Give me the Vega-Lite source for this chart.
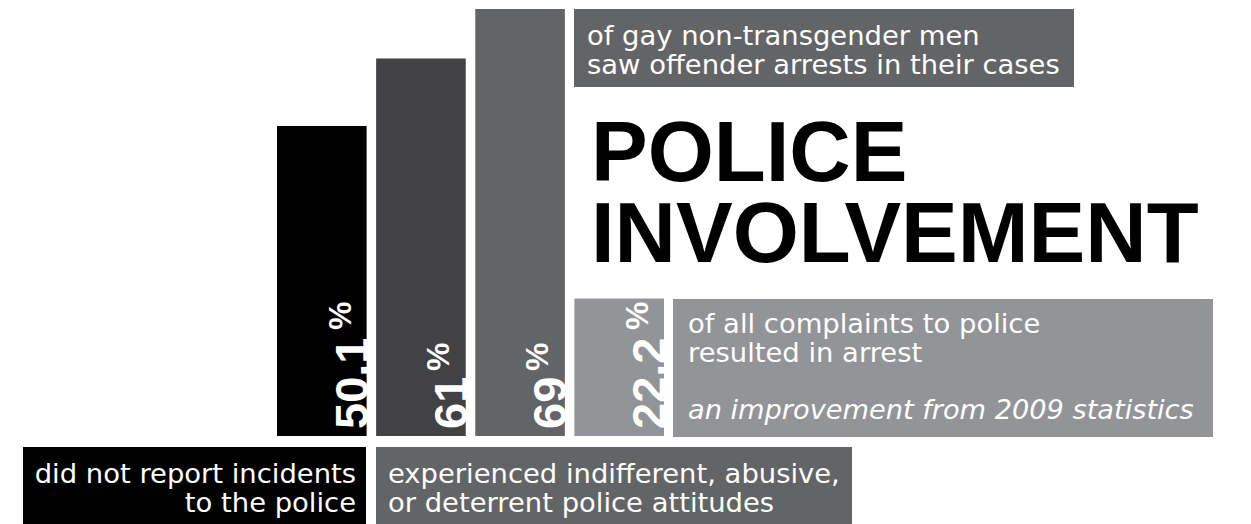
{
  "$schema": "https://vega.github.io/schema/vega-lite/v6.json",
  "width": 1251,
  "height": 524,
  "autosize": {"type": "fit", "contains": "padding"},
  "padding": 0,
  "background": "white",
  "config": {"view": {"stroke": null}},
  "datasets": {
    "bars": [
      {"group": "did not report", "value": 50.1, "label": "50.1"},
      {"group": "attitudes", "value": 61, "label": "61"},
      {"group": "arrests gay men", "value": 69, "label": "69"},
      {"group": "complaints arrest", "value": 22.2, "label": "22.2"}
    ],
    "boxes": [
      {"box": "arrests gay men", "x1": 574, "x2": 1074, "y1": 9, "y2": 87, "tone": "mid"},
      {"box": "complaints arrest", "x1": 673, "x2": 1213, "y1": 299, "y2": 437, "tone": "light"},
      {"box": "did not report", "x1": 23, "x2": 366, "y1": 447, "y2": 524, "tone": "dark"},
      {"box": "attitudes", "x1": 376, "x2": 852, "y1": 447, "y2": 524, "tone": "mid"}
    ],
    "notes": [
      {"style": "plain", "text": ["of gay non-transgender men", "saw offender arrests in their cases"], "x": 587, "y": 45},
      {"style": "plain", "text": ["of all complaints to police", "resulted in arrest"], "x": 688, "y": 333},
      {"style": "plain", "text": ["experienced indifferent, abusive,", "or deterrent police attitudes"], "x": 388, "y": 483},
      {"style": "right", "text": ["did not report incidents", "to the police"], "x": 356, "y": 483},
      {"style": "italic", "text": "an improvement from 2009 statistics", "x": 688, "y": 419},
      {"style": "title", "text": ["POLICE", "INVOLVEMENT"], "x": 591, "y": 181}
    ]
  },
  "layer": [
    {
      "data": {"name": "bars"},
      "encoding": {
        "x": {"field": "group", "type": "nominal", "sort": null,
              "scale": {"range": [277, 664], "paddingInner": 0.096, "paddingOuter": 0},
              "axis": null},
        "y": {"field": "value", "type": "quantitative",
              "scale": {"domain": [0, 69], "range": [436, 9], "nice": false},
              "axis": null}
      },
      "layer": [
        {
          "mark": {"type": "bar"},
          "encoding": {
            "color": {"field": "group", "type": "nominal",
                      "scale": {"domain": ["did not report", "attitudes", "arrests gay men", "complaints arrest"],
                                "range": ["#000000", "#424244", "#636466", "#939497"]},
                      "legend": null}
          }
        },
        {
          "mark": {"type": "text", "angle": 270, "align": "left", "baseline": "alphabetic",
                   "font": "Liberation Sans", "fontWeight": "bold", "fontSize": 47,
                   "color": "white", "dx": 7, "dy": 1},
          "encoding": {
            "x": {"field": "group", "type": "nominal", "sort": null, "bandPosition": 1},
            "y": {"datum": 0},
            "text": {"field": "label"}
          }
        },
        {
          "transform": [{"filter": "length(datum.label) > 2"}],
          "mark": {"type": "text", "angle": 270, "align": "left", "baseline": "alphabetic",
                   "font": "Liberation Sans", "fontWeight": "bold", "fontSize": 32,
                   "color": "white", "dx": 106, "dy": -16, "text": "%"},
          "encoding": {
            "x": {"field": "group", "type": "nominal", "sort": null, "bandPosition": 1},
            "y": {"datum": 0}
          }
        },
        {
          "transform": [{"filter": "length(datum.label) <= 2"}],
          "mark": {"type": "text", "angle": 270, "align": "left", "baseline": "alphabetic",
                   "font": "Liberation Sans", "fontWeight": "bold", "fontSize": 32,
                   "color": "white", "dx": 65, "dy": -17, "text": "%"},
          "encoding": {
            "x": {"field": "group", "type": "nominal", "sort": null, "bandPosition": 1},
            "y": {"datum": 0}
          }
        }
      ]
    },
    {
      "layer": [
        {
          "data": {"name": "boxes"},
          "mark": {"type": "rect"},
          "encoding": {
            "x": {"field": "x1", "type": "quantitative",
                  "scale": {"domain": [0, 1251], "range": [0, 1251], "nice": false, "zero": false}, "axis": null},
            "x2": {"field": "x2"},
            "y": {"field": "y1", "type": "quantitative",
                  "scale": {"domain": [0, 524], "range": [0, 524], "nice": false, "zero": false}, "axis": null},
            "y2": {"field": "y2"},
            "color": {"field": "tone", "type": "nominal",
                      "scale": {"domain": ["dark", "mid", "light"], "range": ["#000000", "#636466", "#939497"]},
                      "legend": null}
          }
        },
        {
          "data": {"name": "notes"},
          "transform": [{"filter": "datum.style === 'plain'"}],
          "mark": {"type": "text", "align": "left", "baseline": "alphabetic",
                   "font": "DejaVu Sans", "fontSize": 27.4, "lineHeight": 29, "color": "white"},
          "encoding": {
            "x": {"field": "x", "type": "quantitative"},
            "y": {"field": "y", "type": "quantitative"},
            "text": {"field": "text"}
          }
        },
        {
          "data": {"name": "notes"},
          "transform": [{"filter": "datum.style === 'right'"}],
          "mark": {"type": "text", "align": "right", "baseline": "alphabetic",
                   "font": "DejaVu Sans", "fontSize": 27.4, "lineHeight": 29, "color": "white"},
          "encoding": {
            "x": {"field": "x", "type": "quantitative"},
            "y": {"field": "y", "type": "quantitative"},
            "text": {"field": "text"}
          }
        },
        {
          "data": {"name": "notes"},
          "transform": [{"filter": "datum.style === 'italic'"}],
          "mark": {"type": "text", "align": "left", "baseline": "alphabetic",
                   "font": "DejaVu Sans", "fontStyle": "italic", "fontSize": 27.2, "color": "white"},
          "encoding": {
            "x": {"field": "x", "type": "quantitative"},
            "y": {"field": "y", "type": "quantitative"},
            "text": {"field": "text"}
          }
        },
        {
          "data": {"name": "notes"},
          "transform": [{"filter": "datum.style === 'title'"}],
          "mark": {"type": "text", "align": "left", "baseline": "alphabetic",
                   "font": "Liberation Sans", "fontWeight": "bold", "fontSize": 85, "lineHeight": 81, "color": "black"},
          "encoding": {
            "x": {"field": "x", "type": "quantitative"},
            "y": {"field": "y", "type": "quantitative"},
            "text": {"field": "text"}
          }
        }
      ]
    }
  ],
  "resolve": {"scale": {"x": "independent", "y": "independent", "color": "independent"}}
}
